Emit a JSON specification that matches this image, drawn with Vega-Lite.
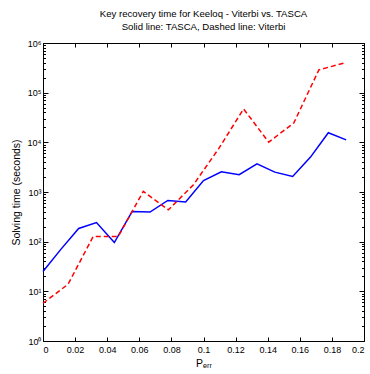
{
  "$schema": "https://vega.github.io/schema/vega-lite/v6.json",
  "width": 321,
  "height": 298,
  "autosize": "none",
  "padding": {"left": 43, "top": 43, "right": 6, "bottom": 33},
  "title": {
    "text": "Key recovery time for Keeloq - Viterbi vs. TASCA",
    "subtitle": "Solid line: TASCA, Dashed line: Viterbi\u00a0\u00a0\u00a0\u00a0\u00a0\u00a0\u00a0\u00a0\u00a0\u00a0",
    "anchor": "middle",
    "frame": "group",
    "font": "Liberation Sans",
    "fontSize": 9.6,
    "fontWeight": "normal",
    "color": "black",
    "subtitleFont": "Liberation Sans",
    "subtitleFontSize": 9.6,
    "subtitleColor": "black",
    "subtitlePadding": 4,
    "offset": 7
  },
  "data": {
    "values": [
      {"series": "TASCA", "p": 0, "t": 25},
      {"series": "TASCA", "p": 0.011111, "t": 70},
      {"series": "TASCA", "p": 0.022222, "t": 184},
      {"series": "TASCA", "p": 0.033333, "t": 243},
      {"series": "TASCA", "p": 0.044444, "t": 96},
      {"series": "TASCA", "p": 0.055556, "t": 405},
      {"series": "TASCA", "p": 0.066667, "t": 395},
      {"series": "TASCA", "p": 0.077778, "t": 675},
      {"series": "TASCA", "p": 0.088889, "t": 630},
      {"series": "TASCA", "p": 0.1, "t": 1700},
      {"series": "TASCA", "p": 0.111111, "t": 2560},
      {"series": "TASCA", "p": 0.122222, "t": 2230},
      {"series": "TASCA", "p": 0.133333, "t": 3700},
      {"series": "TASCA", "p": 0.144444, "t": 2510},
      {"series": "TASCA", "p": 0.155556, "t": 2050},
      {"series": "TASCA", "p": 0.166667, "t": 5050},
      {"series": "TASCA", "p": 0.177778, "t": 15600},
      {"series": "TASCA", "p": 0.188889, "t": 11200},
      {"series": "Viterbi", "p": 0, "t": 5.75},
      {"series": "Viterbi", "p": 0.015625, "t": 13.9},
      {"series": "Viterbi", "p": 0.03125, "t": 127},
      {"series": "Viterbi", "p": 0.046875, "t": 127},
      {"series": "Viterbi", "p": 0.0625, "t": 1030},
      {"series": "Viterbi", "p": 0.078125, "t": 437},
      {"series": "Viterbi", "p": 0.09375, "t": 1400},
      {"series": "Viterbi", "p": 0.109375, "t": 7400},
      {"series": "Viterbi", "p": 0.125, "t": 47000},
      {"series": "Viterbi", "p": 0.140625, "t": 10100},
      {"series": "Viterbi", "p": 0.15625, "t": 24500},
      {"series": "Viterbi", "p": 0.171875, "t": 288000},
      {"series": "Viterbi", "p": 0.1875, "t": 394000}
    ]
  },
  "layer": [
    {
      "transform": [{"filter": "datum.series === 'TASCA'"}],
      "mark": {"type": "line", "color": "#0000ff", "strokeWidth": 1.5},
      "encoding": {
        "x": {
          "field": "p", "type": "quantitative",
          "scale": {"domain": [0, 0.2], "nice": false, "zero": false},
          "axis": {
            "orient": "bottom",
            "values": [0, 0.02, 0.04, 0.06, 0.08, 0.1, 0.12, 0.14, 0.16, 0.18, 0.2],
            "format": ".2~f",
            "title": "P\u2091\u1d63\u1d63",
            "titlePadding": 4,
            "titleFontSize": 10.5,
            "tickSize": -4,
            "labelPadding": 8
          }
        },
        "y": {
          "field": "t", "type": "quantitative",
          "scale": {"type": "log", "domain": [1, 1000000], "nice": false},
          "axis": {
            "orient": "left",
            "values": [1,2,3,4,5,6,7,8,9,10,20,30,40,50,60,70,80,90,100,200,300,400,500,600,700,800,900,1000,2000,3000,4000,5000,6000,7000,8000,9000,10000,20000,30000,40000,50000,60000,70000,80000,90000,100000,200000,300000,400000,500000,600000,700000,800000,900000,1000000],
            "labelExpr": "abs(log(datum.value)/LN10 - round(log(datum.value)/LN10)) < 0.001 ? '10' + ['\u2070','\u00b9','\u00b2','\u00b3','\u2074','\u2075','\u2076'][round(log(datum.value)/LN10)] : ''",
            "tickSize": {"condition": {"test": "abs(log(datum.value)/LN10 - round(log(datum.value)/LN10)) < 0.001", "value": -5}, "value": -2.5},
            "labelPadding": 7,
            "title": "Solving time (seconds)",
            "titleFontSize": 10.5,
            "titlePadding": 6
          }
        }
      }
    },
    {
      "transform": [{"filter": "datum.series === 'Viterbi'"}],
      "mark": {"type": "line", "color": "#ff0000", "strokeWidth": 1.5, "strokeDash": [5, 3]},
      "encoding": {
        "x": {
          "field": "p", "type": "quantitative",
          "axis": {
            "orient": "top",
            "values": [0, 0.02, 0.04, 0.06, 0.08, 0.1, 0.12, 0.14, 0.16, 0.18, 0.2],
            "labels": false,
            "title": null,
            "tickSize": -4
          }
        },
        "y": {
          "field": "t", "type": "quantitative",
          "axis": {
            "orient": "right",
            "values": [1,2,3,4,5,6,7,8,9,10,20,30,40,50,60,70,80,90,100,200,300,400,500,600,700,800,900,1000,2000,3000,4000,5000,6000,7000,8000,9000,10000,20000,30000,40000,50000,60000,70000,80000,90000,100000,200000,300000,400000,500000,600000,700000,800000,900000,1000000],
            "labels": false,
            "title": null,
            "tickSize": {"condition": {"test": "abs(log(datum.value)/LN10 - round(log(datum.value)/LN10)) < 0.001", "value": -5}, "value": -2.5}
          }
        }
      }
    }
  ],
  "resolve": {"axis": {"x": "independent", "y": "independent"}},
  "config": {
    "view": {"stroke": "black", "strokeWidth": 1},
    "axis": {
      "domain": false,
      "grid": false,
      "tickColor": "black",
      "tickWidth": 1,
      "labelColor": "black",
      "labelFont": "Liberation Sans",
      "labelFontSize": 9,
      "titleColor": "black",
      "titleFont": "Liberation Sans",
      "titleFontSize": 9.6,
      "titleFontWeight": "normal"
    }
  }
}
